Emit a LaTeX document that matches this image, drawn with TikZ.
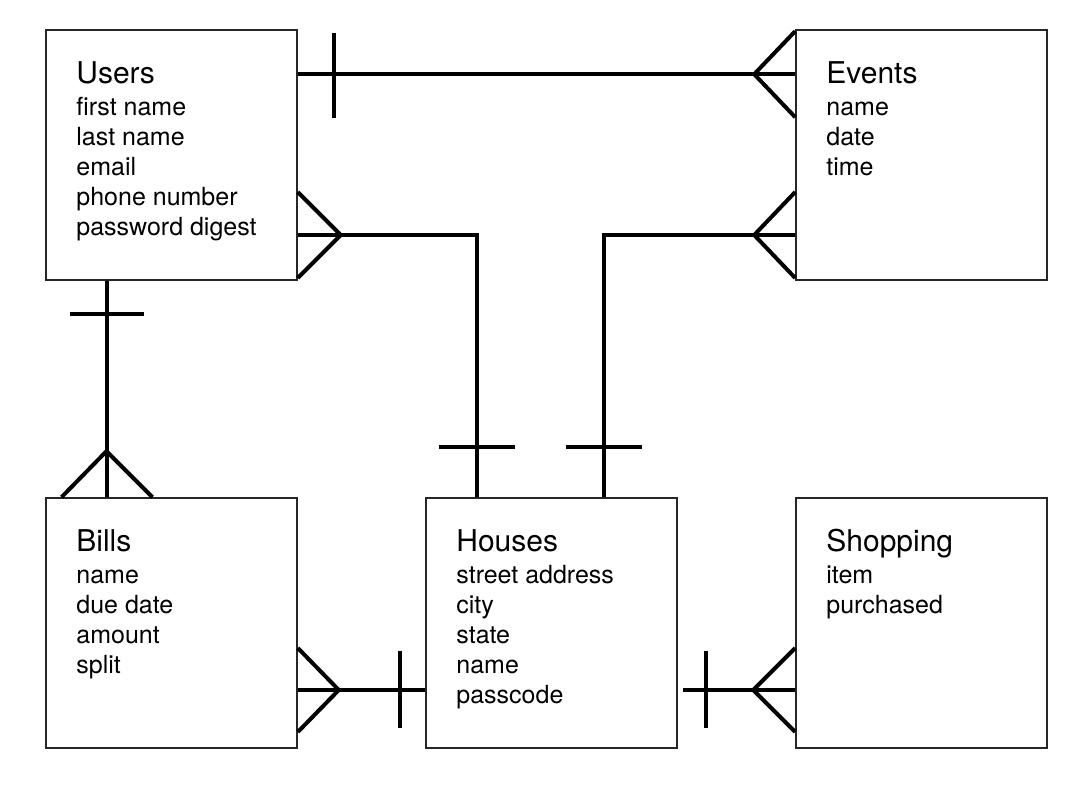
\documentclass[tikz,border=0pt]{standalone}
\usepackage{fontspec}
\setmainfont{TeX Gyre Heros}
\newcommand{\ttlfont}{\fontsize{30}{30}\selectfont}
\newcommand{\attrfont}{\fontsize{25}{30}\selectfont}
\newenvironment{fieldlist}{\begin{tabular}[t]{@{}l@{}}}{\end{tabular}}
\tikzset{
  entity/.style={draw=black!85, line width=1.6pt, minimum width=251pt, minimum height=250pt, inner sep=0pt},
  fields/.style={anchor=base west, inner sep=0pt, font=\attrfont},
  rel/.style={line width=4pt}
}
\begin{document}
\begin{tikzpicture}[x=1pt, y=-1pt]
\useasboundingbox (0,0) rectangle (1092,794);

% entities
\node[entity] (users) at (171.5,155) {};
\node[entity] (events) at (921.5,155) {};
\node[entity] (bills) at (171.5,623) {};
\node[entity] (houses) at (551.5,623) {};
\node[entity] (shopping) at (921.5,623) {};

\node[fields] (userstext) at ([xshift=31pt,yshift=-54pt]users.north west)
  {\begin{fieldlist}{\ttlfont Users}\\[2pt] first name\\ last name\\ email\\ phone number\\ password digest\end{fieldlist}};
\node[fields] (eventstext) at ([xshift=31pt,yshift=-54pt]events.north west)
  {\begin{fieldlist}{\ttlfont Events}\\[2pt] name\\ date\\ time\end{fieldlist}};
\node[fields] (billstext) at ([xshift=31pt,yshift=-54pt]bills.north west)
  {\begin{fieldlist}{\ttlfont Bills}\\[2pt] name\\ due date\\ amount\\ split\end{fieldlist}};
\node[fields] (housestext) at ([xshift=31pt,yshift=-54pt]houses.north west)
  {\begin{fieldlist}{\ttlfont Houses}\\[2pt] street address\\ city\\ state\\ name\\ passcode\end{fieldlist}};
\node[fields] (shoppingtext) at ([xshift=31pt,yshift=-54pt]shopping.north west)
  {\begin{fieldlist}{\ttlfont Shopping}\\[2pt] item\\ purchased\end{fieldlist}};

% users -- events
\draw[rel] ([yshift=-45pt]users.north east) -- ([yshift=-45pt]events.north west);
\draw[rel] ([xshift=36pt,yshift=-4pt]users.north east) -- ([xshift=36pt,yshift=-89pt]users.north east);
\draw[rel] ([yshift=-2pt]events.north west) -- ([xshift=-41pt,yshift=-45pt]events.north west) -- ([yshift=-88pt]events.north west);

% users -- houses
\draw[rel] ([yshift=-80pt]users.east) -| ([xshift=-75pt]houses.north);
\draw[rel] ([yshift=-37pt]users.east) -- ([xshift=43pt,yshift=-80pt]users.east) -- ([yshift=-123pt]users.east);
\draw[rel] ([xshift=-113pt,yshift=50pt]houses.north) -- ([xshift=-37pt,yshift=50pt]houses.north);

% events -- houses
\draw[rel] ([yshift=-80pt]events.west) -| ([xshift=52pt]houses.north);
\draw[rel] ([yshift=-37pt]events.west) -- ([xshift=-41pt,yshift=-80pt]events.west) -- ([yshift=-123pt]events.west);
\draw[rel] ([xshift=14pt,yshift=50pt]houses.north) -- ([xshift=90pt,yshift=50pt]houses.north);

% users -- bills
\draw[rel] ([xshift=-65pt]users.south) -- ([xshift=-65pt]bills.north);
\draw[rel] ([xshift=-102pt,yshift=-33pt]users.south) -- ([xshift=-28pt,yshift=-33pt]users.south);
\draw[rel] ([xshift=-110pt]bills.north) -- ([xshift=-65pt,yshift=46pt]bills.north) -- ([xshift=-19pt]bills.north);

% bills -- houses
\draw[rel] ([yshift=-67pt]bills.east) -- ([yshift=-67pt]houses.west);
\draw[rel] ([yshift=-25pt]bills.east) -- ([xshift=41pt,yshift=-67pt]bills.east) -- ([yshift=-109pt]bills.east);
\draw[rel] ([xshift=-25pt,yshift=-28pt]houses.west) -- ([xshift=-25pt,yshift=-105pt]houses.west);

% houses -- shopping
\draw[rel] ([xshift=5pt,yshift=-67pt]houses.east) -- ([yshift=-67pt]shopping.west);
\draw[rel] ([xshift=28pt,yshift=-28pt]houses.east) -- ([xshift=28pt,yshift=-105pt]houses.east);
\draw[rel] ([yshift=-25pt]shopping.west) -- ([xshift=-42pt,yshift=-67pt]shopping.west) -- ([yshift=-109pt]shopping.west);
\end{tikzpicture}
\end{document}
